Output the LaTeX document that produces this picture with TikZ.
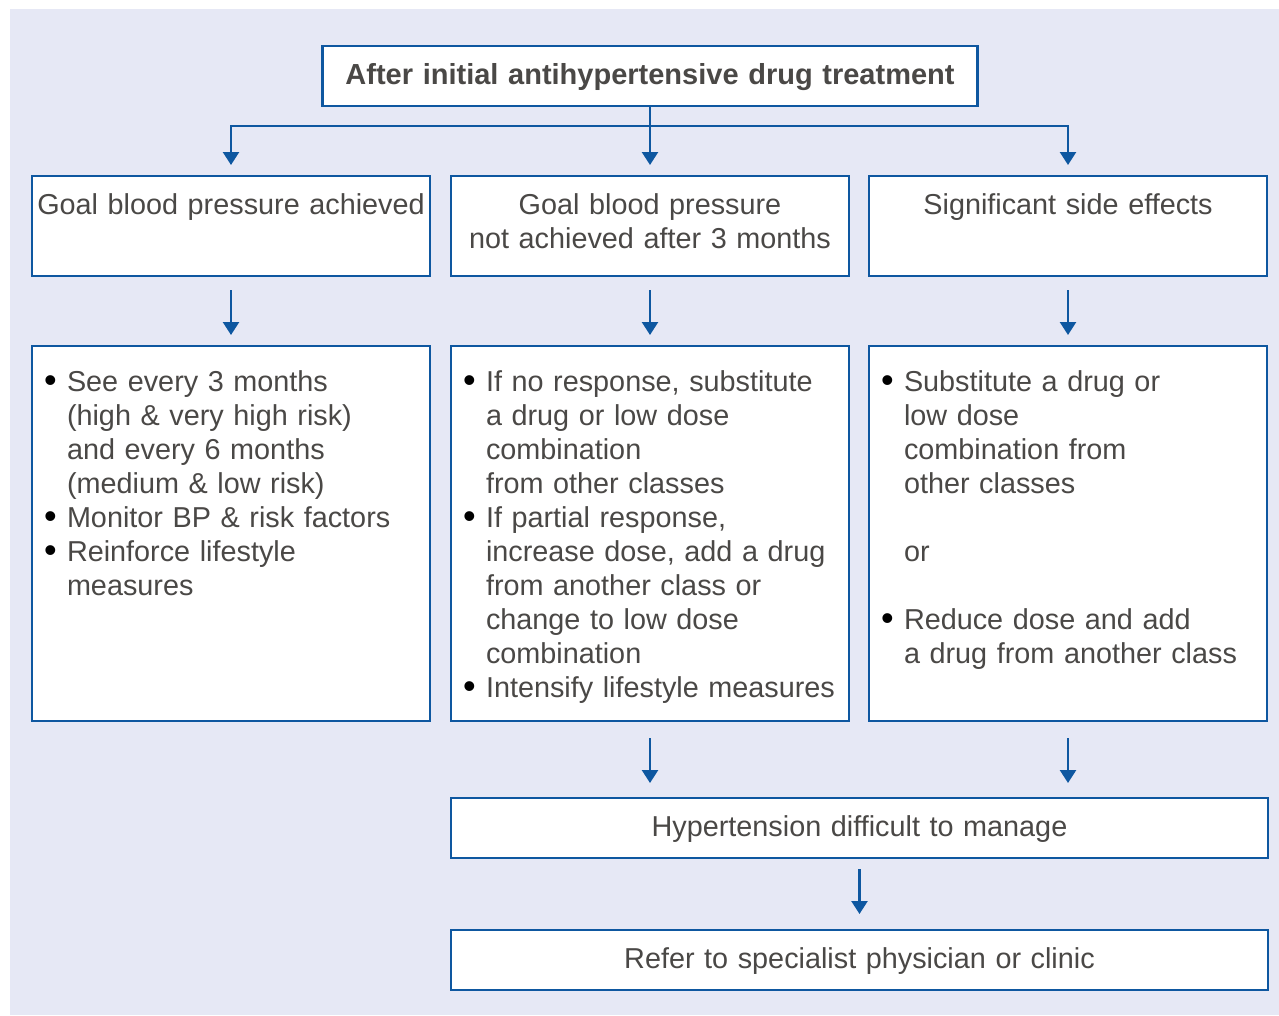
\documentclass[tikz,border=0pt]{standalone}
\usepackage{fontspec}
\setmainfont{Liberation Sans}
\usetikzlibrary{positioning,arrows.meta}

\definecolor{boxblue}{RGB}{14,87,160}
\definecolor{panel}{RGB}{230,232,245}
\definecolor{txt}{RGB}{74,72,70}
\newcommand{\itemdot}{\hspace*{12pt}\makebox[23pt][l]{\raisebox{-1pt}{\textcolor{black}{\fontsize{36}{34}\selectfont\textbullet}}}}
\newcommand{\itemgap}{\hspace*{35pt}}

\begin{document}
\begin{tikzpicture}[x=1pt, y=-1pt, >={Triangle[width=16pt,length=13pt]},
  box/.style={rectangle, draw=boxblue, line width=2.5pt, fill=white, text=txt,
    inner sep=0pt, outer sep=0pt, font=\fontsize{28.8}{34}\selectfont, align=center},
  head/.style={box, text width=398pt, text height=38pt, text depth=62pt},
  plan/.style={box, align=left, text width=398pt, text height=45pt, text depth=330pt},
  wide/.style={box, text width=817pt, text height=38pt, text depth=22pt},
  link/.style={->, draw=boxblue, line width=2.5pt}]

  \useasboundingbox (0,0) rectangle (1279,1015);
  \fill[panel] (10,9) rectangle (1279,1015);

  % Nodes
  \node[box, font=\bfseries\fontsize{29}{34}\selectfont, text width=655pt,
    text height=38pt, text depth=22pt, anchor=north] (start) at (650,46)
    {After initial antihypertensive drug treatment};

  \node[head, below=70pt of start] (notmet) {Goal blood pressure\\not achieved after 3 months};
  \node[head, left=21pt of notmet] (goal) {Goal blood pressure achieved};
  \node[head, right=20pt of notmet] (side) {Significant side effects};

  \node[plan, below=70pt of goal] (followup) {%
    \itemdot See every 3 months\\
    \itemgap (high \& very high risk)\\
    \itemgap and every 6 months\\
    \itemgap (medium \& low risk)\\
    \itemdot Monitor BP \& risk factors\\
    \itemdot Reinforce lifestyle\\
    \itemgap measures};
  \node[plan, below=70pt of notmet] (adjust) {%
    \itemdot If no response, substitute\\
    \itemgap a drug or low dose\\
    \itemgap combination\\
    \itemgap from other classes\\
    \itemdot If partial response,\\
    \itemgap increase dose, add a drug\\
    \itemgap from another class or\\
    \itemgap change to low dose\\
    \itemgap combination\\
    \itemdot Intensify lifestyle measures};
  \node[plan, below=70pt of side] (substitute) {%
    \itemdot Substitute a drug or\\
    \itemgap low dose\\
    \itemgap combination from\\
    \itemgap other classes\\[34pt]
    \itemgap or\\[34pt]
    \itemdot Reduce dose and add\\
    \itemgap a drug from another class};

  \node[wide, below right=77pt and 0pt of adjust.south west] (difficult) {Hypertension difficult to manage};
  \node[wide, below=72pt of difficult] (refer) {Refer to specialist physician or clinic};

  % Arrows
  \draw[draw=boxblue, line width=2.5pt] (start.south) -- ++(0,20) coordinate (fork);
  \draw[link, shorten >=11pt] (fork) -| (goal.north);
  \draw[link, shorten >=11pt] (fork) -- (notmet.north);
  \draw[link, shorten >=11pt] (fork) -| (side.north);

  \draw[link, shorten <=14pt, shorten >=11pt] (goal) -- (followup);
  \draw[link, shorten <=14pt, shorten >=11pt] (notmet) -- (adjust);
  \draw[link, shorten <=14pt, shorten >=11pt] (side) -- (substitute);

  \draw[link, shorten <=17pt, shorten >=15pt] (adjust.south) -- (adjust.south |- difficult.north);
  \draw[link, shorten <=17pt, shorten >=15pt] (substitute.south) -- (substitute.south |- difficult.north);
  \draw[link, shorten <=11pt, shorten >=16pt] (difficult) -- (refer);
\end{tikzpicture}
\end{document}
